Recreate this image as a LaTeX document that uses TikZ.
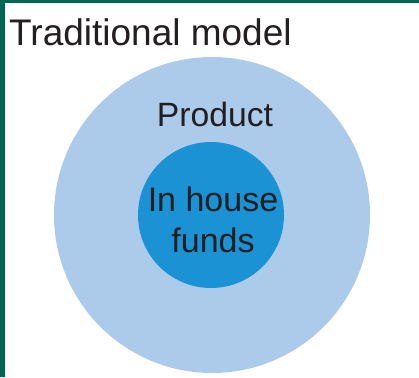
\documentclass[tikz,border=0pt]{standalone}
\usepackage{fontspec}
\setmainfont{Liberation Sans}
\definecolor{framegreen}{RGB}{0,104,82}
\definecolor{outerblue}{RGB}{172,203,234}
\definecolor{innerblue}{RGB}{26,146,212}
\definecolor{textdark}{RGB}{35,31,32}
\begin{document}
\begin{tikzpicture}[x=1pt,y=1pt,
  lbl/.style={inner sep=0pt,text=textdark}]
\useasboundingbox (0,0) rectangle (419,377);
\fill[white] (0,0) rectangle (419,377);
\fill[framegreen] (0,374) rectangle (419,377);
\fill[framegreen] (0,0) rectangle (5,377);
\node[circle,fill=outerblue,minimum size=316pt,inner sep=0pt] (outer) at (212,162) {};
\node[circle,fill=innerblue,minimum size=146pt,inner sep=0pt] (inner) at (211,162) {};
\node[lbl,anchor=base west,font=\fontsize{37}{44}\selectfont] (title) at (9,331) {Traditional model};
\node[lbl,anchor=base,font=\fontsize{33.7}{40}\selectfont] (prod) at (215,250) {Product};
\node[lbl,align=center,font=\fontsize{34}{41}\selectfont] (funds) at (213,157) {In house\\funds};
\end{tikzpicture}
\end{document}
